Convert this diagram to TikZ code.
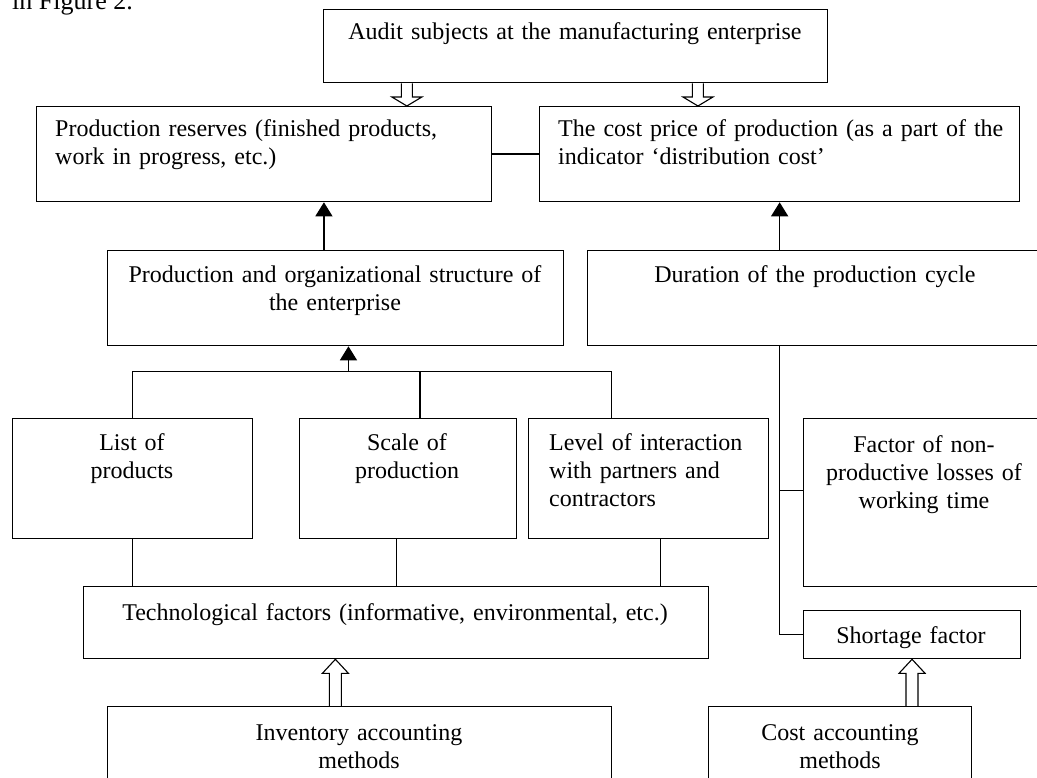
\documentclass[tikz,border=0pt]{standalone}
\usepackage{fontspec}
\setmainfont{Liberation Serif}
\usetikzlibrary{arrows.meta,calc}
\tikzset{
  box/.style={draw, line width=1.3pt, rectangle, inner sep=0pt, anchor=north west},
  ctext/.style={font=\fontsize{24}{28}\selectfont, inner sep=0pt, text width=700pt, align=center, anchor=base},
  ltext/.style={font=\fontsize{24}{28}\selectfont, inner sep=0pt, text width=480pt, align=left, anchor=base west},
  link/.style={line width=1.3pt},
  arr/.style={line width=1.3pt, -{Triangle[length=14pt,width=17pt]}},
  hollow/.style={line width=1.1pt, line join=miter}
}
\newcommand{\hollowarr}[5]{\draw[hollow] let \p1=(#1), \p2=(#2) in
  (\x1-#3pt,\y1) -- (\x1-#3pt,{\y2+(#5pt)}) -- (\x1-#4pt,{\y2+(#5pt)}) -- (\x1,\y2)
  -- (\x1+#4pt,{\y2+(#5pt)}) -- (\x1+#3pt,{\y2+(#5pt)}) -- (\x1+#3pt,\y1);}
\begin{document}
\begin{tikzpicture}[x=1pt,y=-1pt]
\useasboundingbox (0,0) rectangle (1037,778);
\clip (0,0) rectangle (1037,778);

% boxes
\node[box, minimum width=504pt, minimum height=73pt] (audit) at (323,9) {};
\node[box, minimum width=455pt, minimum height=95pt] (pr) at (36,106) {};
\node[box, minimum width=480pt, minimum height=95pt] (cost) at (539,106) {};
\node[box, minimum width=456pt, minimum height=95pt] (pog) at (107,250) {};
\node[box, minimum width=456pt, minimum height=95pt] (dur) at (587,250) {};
\node[box, minimum width=240pt, minimum height=120pt] (list) at (12,418) {};
\node[box, minimum width=217pt, minimum height=120pt] (scale) at (299,418) {};
\node[box, minimum width=240pt, minimum height=120pt] (level) at (528,418) {};
\node[box, minimum width=242pt, minimum height=168pt] (factor) at (803,418) {};
\node[box, minimum width=625pt, minimum height=72pt] (tech) at (83,586) {};
\node[box, minimum width=217pt, minimum height=48pt] (short) at (803,610) {};
\node[box, minimum width=504pt, minimum height=100pt] (inv) at (107,706) {};
\node[box, minimum width=263pt, minimum height=100pt] (ca) at (708,706) {};

% texts
\node[font=\fontsize{26}{30}\selectfont, inner sep=0pt, anchor=base west] (fig) at (12,10) {in Figure 2.};
\node[ctext] (t-audit) at (575,40) {Audit subjects at the manufacturing enterprise};
\node[ltext] (t-pr) at (55,137) {Production reserves (finished products,\\work in progress, etc.)};
\node[ltext] (t-cost) at (558,137) {The cost price of production (as a part of the\\indicator ‘distribution cost’};
\node[ctext] (t-pog) at (335,283) {Production and organizational structure of\\the enterprise};
\node[ctext] (t-dur) at (815,283) {Duration of the production cycle};
\node[ctext] (t-list) at (132,450) {List of\\products};
\node[ctext] (t-scale) at (407,450) {Scale of\\production};
\node[ltext] (t-level) at (549,450) {Level of interaction\\with partners and\\contractors};
\node[ctext] (t-factor) at (924,452) {Factor of non-\\productive losses of\\working time};
\node[ctext] (t-tech) at (395,620) {Technological factors (informative, environmental, etc.)};
\node[ctext] (t-short) at (911,643) {Shortage factor};
\node[ctext] (t-inv) at (359,740) {Inventory accounting\\methods};
\node[ctext] (t-ca) at (840,740) {Cost accounting\\methods};

% helper coordinates
\coordinate (a1) at ($(audit.south west)!0.166!(audit.south east)$);
\coordinate (a2) at ($(audit.south west)!0.742!(audit.south east)$);
\coordinate (b1) at ($(inv.north west)!0.452!(inv.north east)$);
\coordinate (b2) at ($(ca.north west)!0.772!(ca.north east)$);
\coordinate (pT) at ($(pr.south west)!0.631!(pr.south east)$);
\coordinate (pB) at ($(pog.south west)!0.528!(pog.south east)$);
\coordinate (bus) at ($(pB)+(0,25)$);
\coordinate (sT) at ($(scale.north west)!0.554!(scale.north east)$);
\coordinate (lT) at ($(level.north west)!0.346!(level.north east)$);
\coordinate (lB) at ($(level.south west)!0.55!(level.south east)$);
\coordinate (fW) at ($(factor.north west)!0.43!(factor.south west)$);

% hollow arrows
\hollowarr{a1}{pr.north -| a1}{5.5}{15}{9}
\hollowarr{a2}{cost.north -| a2}{5.5}{15}{9}
\hollowarr{b1}{tech.south -| b1}{6}{13}{-14}
\hollowarr{b2}{short.south -| b2}{6}{13}{-14}

% connectors
\draw[link] (pr.east) -- (cost.west);
\draw[arr] (pT |- pog.north) -- (pT);
\draw[arr] (dur.north -| cost.south) -- (cost.south);
\draw[arr] (bus) -- (pB);
\draw[link] (list.north) |- (bus) -| (lT);
\draw[link] (sT) -- (sT |- bus);
\draw[link] (list.south) -- (list.south |- tech.north);
\draw[link] (scale.south -| tech.north) -- (tech.north);
\draw[link] (lB) -- (lB |- tech.north);
\draw[link] (dur.south -| cost.south) |- (short.west);
\draw[link] (fW -| cost.south) -- (fW);
\end{tikzpicture}
\end{document}
